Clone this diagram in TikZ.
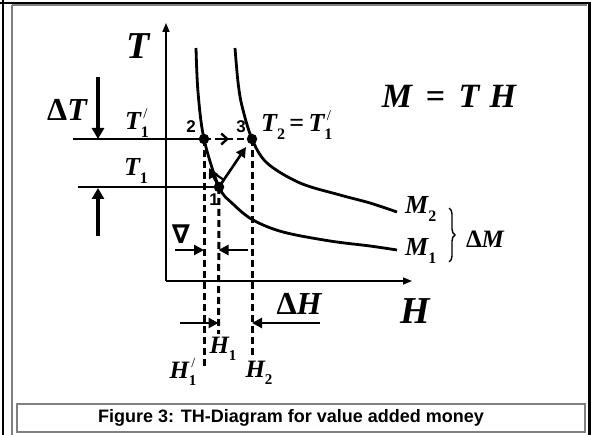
\documentclass[tikz,border=0pt]{standalone}
\usepackage{fontspec}
\setmainfont{Liberation Serif}
\newfontfamily\arialf{Liberation Sans}
\newfontfamily\dvs{DejaVu Sans}
\usetikzlibrary{arrows.meta,decorations.markings,decorations.pathreplacing}
\newcommand{\sbx}[2]{\raisebox{-0.28em}{\fontsize{#1}{#1}\selectfont\upshape\bfseries #2}}
\newcommand{\prm}[1]{\rlap{\raisebox{0.42em}{\fontsize{#1}{#1}\selectfont\upshape\mdseries\,/}}}
\begin{document}
\begin{tikzpicture}[x=1pt,y=-1pt,
  vlab/.style={font=\bfseries\itshape, inner sep=0pt},
  numlab/.style={font=\arialf\bfseries\fontsize{17}{17}\selectfont, inner sep=0pt},
  curveline/.style={line width=2.8pt},
  axisline/.style={line width=1.6pt,-{Triangle[length=9pt,width=7pt]}},
  guide/.style={line width=1.8pt},
  dashguide/.style={line width=3pt,dash pattern=on 7pt off 4pt},
  bigarrow/.style={line width=3.2pt,-{Triangle[length=11pt,width=12pt]}},
  midarrow/.style={line width=2.6pt,-{Triangle[length=10pt,width=10pt]}},
  dot/.style={circle,fill=black,inner sep=0pt,minimum size=10.5pt},
  frameblack/.style={line width=2.4pt,black},
  framegray/.style={line width=1.4pt,gray}
]
\useasboundingbox (0,0) rectangle (596,435);
% frame
\draw[frameblack] (0,3) -- (591,3);
\draw[frameblack] (3,0) -- (3,435);
\draw[frameblack] (589.5,3) -- (589.5,435);
\draw[framegray] (12,5) -- (12,435);
\draw[framegray] (12,5.2) -- (587,5.2);
\draw[framegray] (17,404) rectangle (585,432);
\node[font=\arialf\bfseries\fontsize{18}{18}\selectfont] (cap) at (291,418) {Figure 3: TH-Diagram for value added money};

% axes
\coordinate (O) at (166,281);
\coordinate (Ttop) at (166,23);
\coordinate (Hend) at (412,281);
\draw[axisline] (O) -- (Ttop);
\draw[axisline] (O) -- (Hend);
\node[vlab,font=\bfseries\itshape\fontsize{38}{38}\selectfont] (Tl) at (138,46) {T};
\node[vlab,font=\bfseries\itshape\fontsize{38}{38}\selectfont] (Hl) at (415,311) {H};
\node[vlab,font=\bfseries\itshape\fontsize{34}{34}\selectfont] (eq) at (449,96) {M\hspace{0.4em}=\hspace{0.4em}T\hspace{0.3em}H};

% points
\coordinate (p2) at (204,139);
\coordinate (p3) at (252,139);
\coordinate (p1) at (219,187);

% curves
\draw[curveline] plot[smooth,tension=0.55] coordinates {(196,48) (198,92) (204,139) (219,187) (233,204) (253,220) (283,232) (330,241) (370,246) (397,250)};
\draw[curveline] plot[smooth,tension=0.55] coordinates {(235,48) (238,82) (242,106) (252,139) (267,163) (300,183) (340,195) (370,203) (397,212)};
\node[vlab,font=\bfseries\itshape\fontsize{26}{26}\selectfont,anchor=west] (M2) at (405,209) {M\sbx{16}{2}};
\node[vlab,font=\bfseries\itshape\fontsize{26}{26}\selectfont,anchor=west] (M1) at (405,251) {M\sbx{16}{1}};
\coordinate (bt) at (449,208);
\coordinate (bb) at (449,262);
\draw[line width=1.4pt,decorate,decoration={brace,amplitude=6pt}] (bt) -- (bb);
\node[vlab,font=\bfseries\itshape\fontsize{25}{25}\selectfont] (dM) at (485,239) {\upshape Δ\itshape M};

% horizontal guides
\coordinate (g1) at (73,139);
\coordinate (g2) at (78,187);
\draw[guide] (g1) -- (p2);
\draw[guide] (g2) -- (p1);
\node[vlab,font=\bfseries\itshape\fontsize{32}{32}\selectfont] (dT) at (67,110) {\upshape Δ\itshape T};
\coordinate (a1s) at (98,77);
\coordinate (a1e) at (98,139);
\coordinate (a2s) at (98,236);
\coordinate (a2e) at (98,188);
\draw[bigarrow] (a1s) -- (a1e);
\draw[bigarrow] (a2s) -- (a2e);
\node[vlab,font=\bfseries\itshape\fontsize{26}{26}\selectfont] (T1p) at (137,123) {T\prm{15}\sbx{16}{1}};
\node[vlab,font=\bfseries\itshape\fontsize{26}{26}\selectfont] (T1) at (136,171) {T\sbx{16}{1}};
\node[vlab,font=\bfseries\itshape\fontsize{26}{26}\selectfont,anchor=west] (T2) at (261,125) {T\sbx{16}{2}\,\upshape=\,\itshape T\prm{15}\sbx{16}{1}};

% dashed verticals
\coordinate (h1p) at (204,366);
\coordinate (h1) at (218.5,334);
\coordinate (h2) at (252,357);
\draw[dashguide] (p2) -- (h1p);
\draw[dashguide] (p1) -- (h1);
\draw[dashguide] (p3) -- (h2);
\node[vlab,font=\bfseries\itshape\fontsize{25}{25}\selectfont] (H1l) at (223,349) {H\sbx{15}{1}};
\node[vlab,font=\bfseries\itshape\fontsize{25}{25}\selectfont] (H1pl) at (183,372) {H\prm{14}\sbx{15}{1}};
\node[vlab,font=\bfseries\itshape\fontsize{25}{25}\selectfont] (H2l) at (259,373) {H\sbx{15}{2}};

% process arrows
\draw[line width=2.6pt,dash pattern=on 7pt off 4pt] (p2) -- (p3);
\coordinate (chev) at (229,139);
\draw[line width=2.4pt,-{Straight Barb[length=6pt,width=11pt]}] (221,139) -- (chev);
\coordinate (p3a) at (246,147);
\draw[midarrow] (p1) -- (p3a);
\coordinate (p2a) at (209,168);
\draw[midarrow] (p1) -- (p2a);
\draw[line width=2.2pt] (212,172) -- (224,180);

\node[dot] (d2) at (p2) {};
\node[dot] (d3) at (p3) {};
\node[dot] (d1) at (p1) {};
\node[numlab] (n2) at (191,127) {2};
\node[numlab] (n3) at (241,127) {3};
\node[numlab] (n1) at (214,200) {1};

% nabla and arrows inside
\node[inner sep=0pt,font=\dvs\bfseries\fontsize{26}{26}\selectfont] (nab) at (181,234) {∇};
\coordinate (ia1) at (175,250);
\coordinate (ia2) at (248,250);
\draw[midarrow] (ia1) -- (204,250);
\draw[midarrow] (ia2) -- (218.5,250);

% dH arrows
\node[vlab,font=\bfseries\itshape\fontsize{32}{32}\selectfont] (dH) at (299,304) {\upshape Δ\itshape H};
\coordinate (ba1) at (180,323);
\coordinate (ba2) at (320,323);
\draw[midarrow] (ba1) -- (218.5,323);
\draw[midarrow] (ba2) -- (252,323);
\end{tikzpicture}
\end{document}
